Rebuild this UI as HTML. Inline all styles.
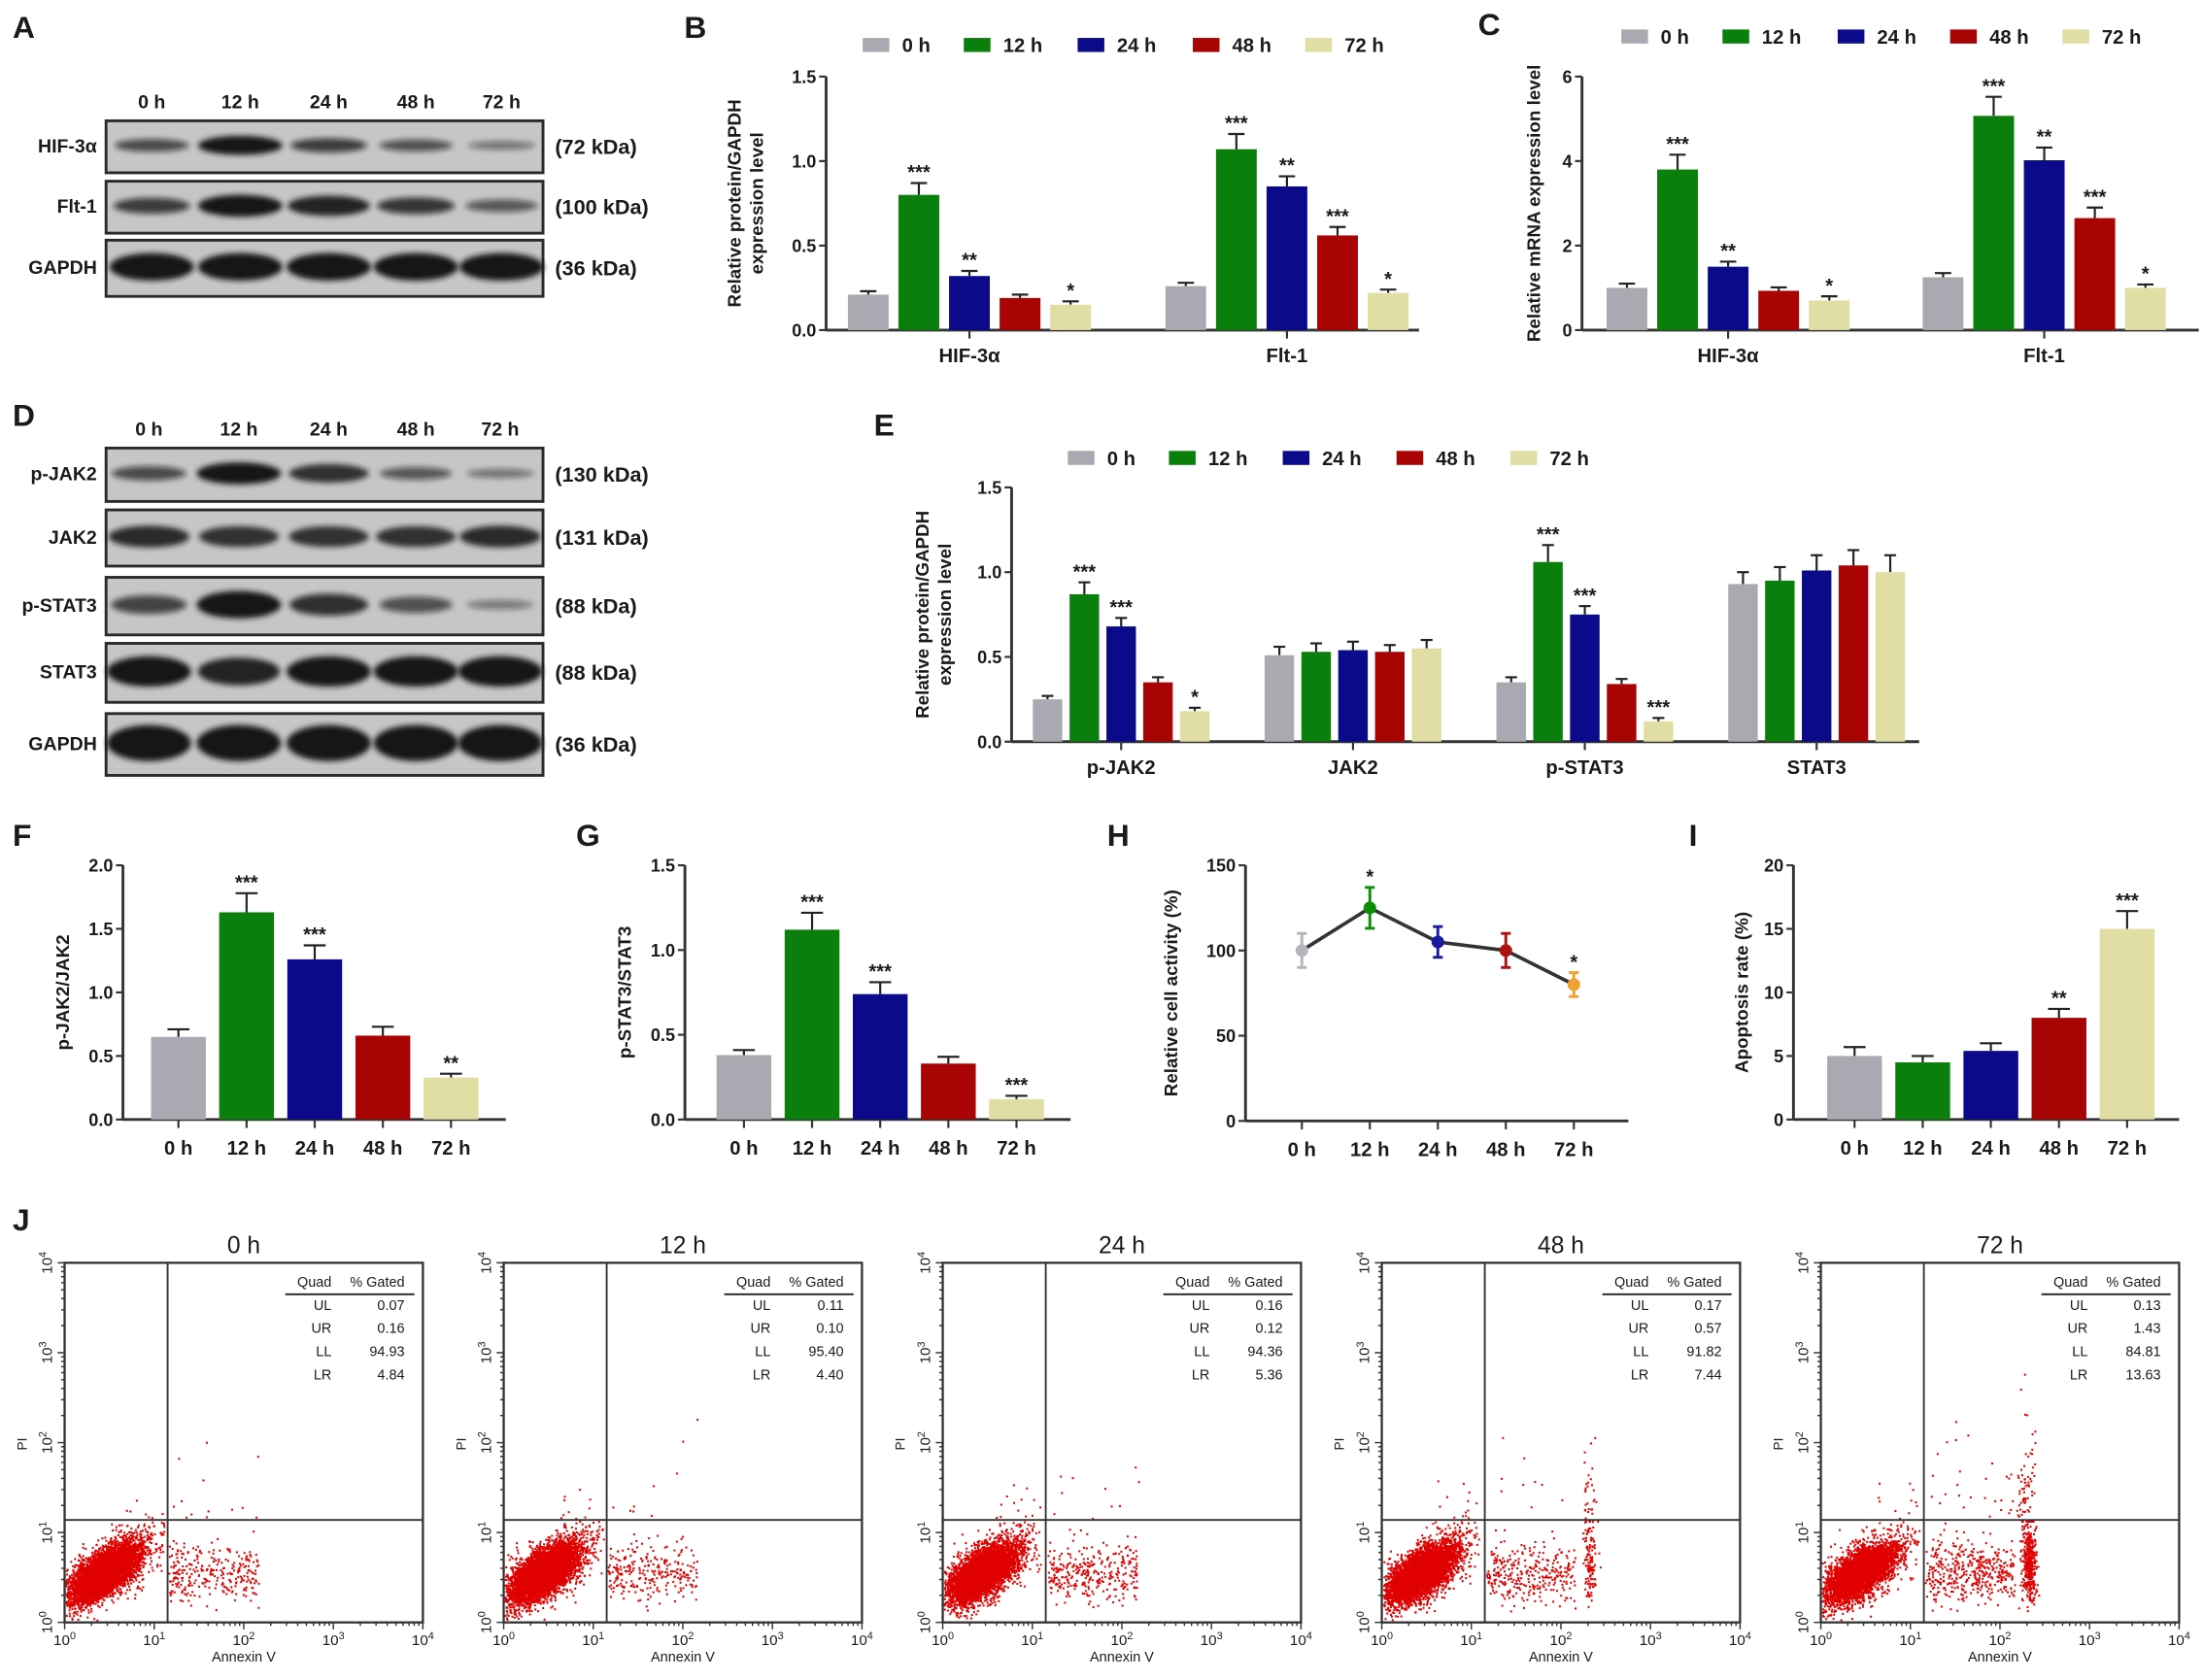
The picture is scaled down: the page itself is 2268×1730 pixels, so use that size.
<!DOCTYPE html>
<html><head><meta charset="utf-8">
<style>
html,body{margin:0;padding:0;background:#fff}
svg{display:block}
text{font-family:"Liberation Sans",Arial,sans-serif;font-weight:bold;fill:#1a1a1a}
</style></head>
<body>
<svg id="fig" xmlns="http://www.w3.org/2000/svg" width="2268" height="1730" viewBox="0 0 1568 1196" preserveAspectRatio="none">
<defs><filter id="blur" x="-20%" y="-80%" width="140%" height="260%"><feGaussianBlur stdDeviation="2"/></filter></defs>
<rect x="0" y="0" width="1568" height="1196" fill="#fff"/>
<text x="9" y="27" font-size="22">A</text>
<text x="487" y="27" font-size="22">B</text>
<text x="1052" y="25" font-size="22">C</text>
<text x="9" y="303" font-size="22">D</text>
<text x="622" y="310" font-size="22">E</text>
<text x="9" y="602" font-size="22">F</text>
<text x="410" y="602" font-size="22">G</text>
<text x="788" y="602" font-size="22">H</text>
<text x="1202" y="602" font-size="22">I</text>
<text x="9" y="876" font-size="22">J</text>
<g id="root"></g>
</svg>
<script>
// ---------- data ----------
const timeLabels = ['0 h','12 h','24 h','48 h','72 h'];
const bCategories = ['HIF-3α','Flt-1'];
const bMeans = [[0.21,0.80,0.32,0.19,0.15],[0.26,1.07,0.85,0.56,0.22]];
const bErrors = [[0.02,0.07,0.03,0.02,0.02],[0.02,0.09,0.06,0.05,0.02]];
const bStars = [['','***','**','','*'],['','***','**','***','*']];
const bTicks = [0,0.5,1.0,1.5];
const bTickLabels = ['0.0','0.5','1.0','1.5'];

const cCategories = ['HIF-3α','Flt-1'];
const cMeans = [[1.0,3.8,1.5,0.93,0.7],[1.25,5.07,4.02,2.65,1.0]];
const cErrors = [[0.1,0.35,0.12,0.08,0.1],[0.1,0.45,0.3,0.25,0.08]];
const cStars = [['','***','**','','*'],['','***','**','***','*']];
const cTicks = [0,2,4,6];
const cTickLabels = ['0','2','4','6'];

const eCategories = ['p-JAK2','JAK2','p-STAT3','STAT3'];
const eMeans = [[0.25,0.87,0.68,0.35,0.18],[0.51,0.53,0.54,0.53,0.55],[0.35,1.06,0.75,0.34,0.12],[0.93,0.95,1.01,1.04,1.00]];
const eErrors = [[0.02,0.07,0.05,0.03,0.02],[0.05,0.05,0.05,0.04,0.05],[0.03,0.10,0.05,0.03,0.02],[0.07,0.08,0.09,0.09,0.10]];
const eStars = [['','***','***','','*'],['','','','',''],['','***','***','','***'],['','','','','']];
const eTicks = [0,0.5,1.0,1.5];
const eTickLabels = ['0.0','0.5','1.0','1.5'];

const fMeans = [0.65,1.63,1.26,0.66,0.33];
const fErrors = [0.06,0.15,0.11,0.07,0.03];
const fStars = ['','***','***','','**'];
const fTicks = [0,0.5,1.0,1.5,2.0];
const fTickLabels = ['0.0','0.5','1.0','1.5','2.0'];

const gMeans = [0.38,1.12,0.74,0.33,0.12];
const gErrors = [0.03,0.10,0.07,0.04,0.02];
const gStars = ['','***','***','','***'];
const gTicks = [0,0.5,1.0,1.5];
const gTickLabels = ['0.0','0.5','1.0','1.5'];

const hMeans = [100,125,105,100,80];
const hErrors = [10,12,9,10,7];
const hStars = ['','*','','','*'];
const hTicks = [0,50,100,150];
const hTickLabels = ['0','50','100','150'];

const iMeans = [5.0,4.5,5.4,8.0,15.0];
const iErrors = [0.7,0.5,0.6,0.7,1.4];
const iStars = ['','','','**','***'];
const iTicks = [0,5,10,15,20];
const iTickLabels = ['0','5','10','15','20'];

const flowQuadNames = ['UL','UR','LL','LR'];
const flowUL = ['0.07','0.11','0.16','0.17','0.13'];
const flowUR = ['0.16','0.10','0.12','0.57','1.43'];
const flowLL = ['94.93','95.40','94.36','91.82','84.81'];
const flowLR = ['4.84','4.40','5.36','7.44','13.63'];

const colors = ['#a9a9b1','#0b7f0b','#0a0a8a','#a80404','#e0dea2'];
const hColors = ['#b5b5bd','#0b8f0b','#1a1aa0','#b01010','#f0a030'];

// ---------- helpers ----------
const NS = 'http://www.w3.org/2000/svg';
const root = document.getElementById('root');
function mk(tag, attrs, parent){
  const el = document.createElementNS(NS, tag);
  for (const k in attrs) el.setAttribute(k, attrs[k]);
  (parent||root).appendChild(el);
  return el;
}
function txt(s, x, y, size, anchor, parent){
  const t = mk('text', {x:x, y:y, 'font-size':size, 'text-anchor':anchor||'start'}, parent);
  t.textContent = s;
  return t;
}

function linearY(yBot, yTop, max){ return v => yBot - v/max*(yBot-yTop); }

function drawYAxis(g, x0, x1, yBot, yTop, ys, ticks, labels, xTicksAt){
  let el = mk('line', {x1:x0, y1:yTop, x2:x0, y2:yBot, stroke:'#333', 'stroke-width':2}, g);
  
  
  el = mk('line', {x1:x0, y1:yBot, x2:x1, y2:yBot, stroke:'#333', 'stroke-width':2}, g);
  
  
  ticks.forEach((t,i)=>{
    const y = ys(t);
    let tk = mk('line', {x1:x0-5, y1:y, x2:x0, y2:y, stroke:'#333', 'stroke-width':1.5}, g);
    
    
    let tl = txt(labels[i], x0-7, y+4.5, 12.5, 'end', g);
    
    
  });
  (xTicksAt||[]).forEach(x=>{
    let tk = mk('line', {x1:x, y1:yBot, x2:x, y2:yBot+6, stroke:'#333', 'stroke-width':1.5}, g);
    
    
  });
}
function yTitle(g, lines, x, cy, size){
  lines.forEach((s,i)=>{
    const t = txt(s, 0, 0, size||13, 'middle', g);
    t.setAttribute('transform', 'translate('+(x+i*16)+','+cy+') rotate(-90)');
    
    
  });
}
function legend(g, xs, y){
  xs.forEach((x,i)=>{
    const r = mk('rect', {x:x, y:y-5, width:19, height:10, fill:colors[i]}, g);
    
    
    const t = txt(timeLabels[i], x+28, y+5, 14, 'start', g);
    
    
  });
}
function bar(g, cx, bw, v, e, star, ys, color, name){
  const y = ys(v), y0 = ys(0), ye = ys(v+e);
  const el = mk('line', {x1:cx, y1:y, x2:cx, y2:ye, stroke:'#222', 'stroke-width':1.5}, g);
  
  
  const cap = mk('line', {x1:cx-bw*0.2, y1:ye, x2:cx+bw*0.2, y2:ye, stroke:'#222', 'stroke-width':1.5}, g);
  
  
  const r = mk('rect', {x:cx-bw/2, y:y, width:bw, height:y0-y, fill:color}, g);
  
  
  if (star){
    const s = txt(star, cx, ye-3, 14, 'middle', g);
    
    
  }
}
function groupedChart(cfg){
  const g = mk('g', {});
  
  
  const ys = linearY(cfg.yBot, cfg.yTop, cfg.max);
  const centers = cfg.categories.map((c,i)=>cfg.gStart + i*cfg.gStep);
  drawYAxis(g, cfg.x0, cfg.x1, cfg.yBot, cfg.yTop, ys, cfg.ticks, cfg.tickLabels, centers);
  cfg.categories.forEach((c,gi)=>{
    const cx = centers[gi];
    cfg.means[gi].forEach((v,k)=>{
      bar(g, cx + (k-2)*cfg.pitch, cfg.bw, v, cfg.errors[gi][k], cfg.stars[gi][k], ys, colors[k], 'bar-'+c.toLowerCase().replace(/[^a-z0-9]+/g,'')+'-'+timeLabels[k].replace(' ',''));
    });
    const t = txt(c, cx, cfg.yBot+23, 14, 'middle', g);
    
    
  });
  yTitle(g, cfg.yLines, cfg.yLabelX, (cfg.yTop+cfg.yBot)/2, 13);
  legend(g, cfg.legendXs, cfg.legendY);
}
function singleChart(cfg){
  const g = mk('g', {});
  
  
  const ys = linearY(cfg.yBot, cfg.yTop, cfg.max);
  const xs = i => cfg.c0 + i*cfg.step;
  const centers = timeLabels.map((t,i)=>xs(i));
  drawYAxis(g, cfg.x0, cfg.x1, cfg.yBot, cfg.yTop, ys, cfg.ticks, cfg.tickLabels, centers);
  cfg.means.forEach((v,i)=>{
    bar(g, xs(i), cfg.bw, v, cfg.errors[i], cfg.stars[i], ys, colors[i], 'bar-'+timeLabels[i].replace(' ',''));
  });
  timeLabels.forEach((t,i)=>{
    const l = txt(t, xs(i), cfg.yBot+25, 14, 'middle', g);
    
    
  });
  yTitle(g, [cfg.yLabel], cfg.yLabelX, (cfg.yTop+cfg.yBot)/2, 13);
}

// ---------- panels B, C, E ----------
groupedChart({name:'chart-b', x0:588, x1:1010, yTop:54.5, yBot:235, max:1.5, ticks:bTicks, tickLabels:bTickLabels,
  categories:bCategories, means:bMeans, errors:bErrors, stars:bStars, gStart:690, gStep:226, pitch:36, bw:29,
  yLines:['Relative protein/GAPDH','expression level'], yLabelX:527, legendXs:[614,686,767,849,929], legendY:32});
groupedChart({name:'chart-c', x0:1126, x1:1565, yTop:54.5, yBot:235, max:6, ticks:cTicks, tickLabels:cTickLabels,
  categories:cCategories, means:cMeans, errors:cErrors, stars:cStars, gStart:1230, gStep:225, pitch:36, bw:29,
  yLines:['Relative mRNA expression level'], yLabelX:1096, legendXs:[1154,1226,1308,1388,1468], legendY:26});
groupedChart({name:'chart-e', x0:720, x1:1366, yTop:347, yBot:528, max:1.5, ticks:eTicks, tickLabels:eTickLabels,
  categories:eCategories, means:eMeans, errors:eErrors, stars:eStars, gStart:798, gStep:165, pitch:26.2, bw:21,
  yLines:['Relative protein/GAPDH','expression level'], yLabelX:661, legendXs:[760,832,913,994,1075], legendY:326});

// ---------- panels F, G, I ----------
singleChart({name:'chart-f', x0:87.5, x1:360, yTop:616, yBot:797, max:2.0, ticks:fTicks, tickLabels:fTickLabels,
  means:fMeans, errors:fErrors, stars:fStars, c0:127, step:48.5, bw:39, yLabel:'p-JAK2/JAK2', yLabelX:49});
singleChart({name:'chart-g', x0:487.5, x1:762, yTop:616, yBot:797, max:1.5, ticks:gTicks, tickLabels:gTickLabels,
  means:gMeans, errors:gErrors, stars:gStars, c0:529.5, step:48.5, bw:39, yLabel:'p-STAT3/STAT3', yLabelX:449});
singleChart({name:'chart-i', x0:1276.5, x1:1551, yTop:616, yBot:797, max:20, ticks:iTicks, tickLabels:iTickLabels,
  means:iMeans, errors:iErrors, stars:iStars, c0:1320, step:48.5, bw:39, yLabel:'Apoptosis rate (%)', yLabelX:1244});

// ---------- panel H (line) ----------
(function(){
  const g = mk('g', {});
  
  
  const x0=886.5, x1=1159, yTop=616, yBot=798;
  const ys = linearY(yBot, yTop, 150);
  const xs = i => 926.6 + i*48.4;
  drawYAxis(g, x0, x1, yBot, yTop, ys, hTicks, hTickLabels, timeLabels.map((t,i)=>xs(i)));
  const pts = hMeans.map((v,i)=>xs(i)+','+ys(v)).join(' ');
  const pl = mk('polyline', {points:pts, fill:'none', stroke:'#333', 'stroke-width':2.5}, g);
  
  
  hMeans.forEach((v,i)=>{
    const cx = xs(i), lo = ys(v-hErrors[i]), hi = ys(v+hErrors[i]);
    const eb = mk('path', {d:'M'+cx+','+lo+'V'+hi+'M'+(cx-3.5)+','+lo+'h7M'+(cx-3.5)+','+hi+'h7', stroke:hColors[i], 'stroke-width':2, fill:'none'}, g);
    
    
    const p = mk('circle', {cx:cx, cy:ys(v), r:4.5, fill:hColors[i]}, g);
    
    
    if (hStars[i]){
      const s = txt(hStars[i], cx, hi-3, 14, 'middle', g);
      
      
    }
    const l = txt(timeLabels[i], cx, yBot+25, 14, 'middle', g);
    
    
  });
  yTitle(g, ['Relative cell activity (%)'], 838, 707, 13);
})();

// ---------- western blots ----------
function blotPanel(name, laneXs, headerY, rows){
  const g = mk('g', {});
  
  
  timeLabels.forEach((t,i)=>{
    const h = txt(t, laneXs[i], headerY+5, 13.5, 'middle', g);
    
    
  });
  rows.forEach(r=>{
    const bg = mk('rect', {x:75.5, y:r.y0, width:311, height:r.y1-r.y0, fill:'#c6c6c6', stroke:'#2a2a2a', 'stroke-width':2}, g);
    
    
    const cy = (r.y0+r.y1)/2 - 1;
    r.int.forEach((I,k)=>{
      const e = mk('ellipse', {cx:laneXs[k], cy:cy, rx:22+8*I, ry:1.8+r.th*I, fill:'#141414', 'fill-opacity':0.3+0.7*I, filter:'url(#blur)'}, g);
      
      
    });
    const l = txt(r.label, 69, cy+5, 13.5, 'end', g);
    
    
    const kd = txt(r.kda, 395, cy+6, 15, 'start', g);
    
    
  });
}
blotPanel('blot-a', [108,171,234,296,357], 72, [
  {label:'HIF-3α', kda:'(72 kDa)', y0:86, y1:123, th:5, int:[0.55,1.0,0.65,0.5,0.25]},
  {label:'Flt-1', kda:'(100 kDa)', y0:129, y1:166, th:6, int:[0.65,1.0,0.9,0.7,0.45]},
  {label:'GAPDH', kda:'(36 kDa)', y0:171, y1:211, th:8, int:[1,1,1,1,1]}
]);
blotPanel('blot-d', [106,170,234,296,356], 305, [
  {label:'p-JAK2', kda:'(130 kDa)', y0:319, y1:357, th:6, int:[0.55,1.0,0.8,0.45,0.25]},
  {label:'JAK2', kda:'(131 kDa)', y0:363, y1:403, th:7, int:[0.85,0.8,0.8,0.8,0.85]},
  {label:'p-STAT3', kda:'(88 kDa)', y0:411, y1:452, th:8, int:[0.6,1.0,0.75,0.5,0.2]},
  {label:'STAT3', kda:'(88 kDa)', y0:458, y1:500, th:9, int:[1,0.9,1,1,1]},
  {label:'GAPDH', kda:'(36 kDa)', y0:508, y1:552, th:11, int:[1,1,1,1,1]}
]);

// ---------- flow cytometry (J) ----------
let seed = 12345;
function rnd(){ seed |= 0; seed = seed + 0x6D2B79F5 | 0; let t = Math.imul(seed ^ seed >>> 15, 1 | seed); t = t + Math.imul(t ^ t >>> 7, 61 | t) ^ t; return ((t ^ t >>> 14) >>> 0) / 4294967296; }
function nrm(){ return Math.sqrt(-2*Math.log(rnd()+1e-9))*Math.cos(2*Math.PI*rnd()); }
function sup(t, base, exp){
  const a = document.createElementNS(NS,'tspan'); a.textContent = base; t.appendChild(a);
  const b = document.createElementNS(NS,'tspan'); b.setAttribute('dy','-4'); b.setAttribute('font-size','7.5'); b.textContent = exp; t.appendChild(b);
}
const flowLefts = [46, 358.5, 671, 983.5, 1296];
timeLabels.forEach((lab, p)=>{
  const L = flowLefts[p], T = 899, W = 255, H = 256, B = T+H;
  const g = mk('g', {});
  
  
  const fx = v => L + v*W/4, fy = v => B - v*H/4;
  const title = mk('text', {x:L+W/2, y:892, 'font-size':17, 'text-anchor':'middle', style:'font-weight:normal'}, g);
  title.textContent = lab;
  
  
  // events
  const N = 6000;
  const ll = parseFloat(flowLL[p]), lr = parseFloat(flowLR[p]), ur = parseFloat(flowUR[p]), ul = parseFloat(flowUL[p]);
  const dots = mk('g', {fill:'#e00000'}, g);
  
  
  function dot(x, y){
    if (x<0.02||x>3.98||y<0.02||y>3.98) return;
    const d = mk('rect', {x:fx(x)-0.7, y:fy(y)-0.7, width:1.4, height:1.4}, dots);
    
    
  }
  const streak = p>=3 ? (p===3?0.3:0.45) : 0;
  const nLL = Math.round(N*ll/100), nLR = Math.round(N*lr/100), nUR = Math.round(N*ur/100)+3, nUL = Math.round(N*ul/100)+3;
  for (let i=0;i<nLL;i++){
    const halo = rnd()<0.15;
    const u = nrm()*(halo?0.32:0.22), w = nrm()*(halo?0.15:0.1);
    let x = 0.45 + u*0.8 - w*0.6, y = 0.55 + u*0.6 + w*0.8;
    if (x>1.12) x = 1.12 - rnd()*0.25;
    if (y>1.12) y = 1.12 - rnd()*0.12;
    dot(x, y);
  }
  for (let i=0;i<nLR;i++){
    if (rnd()<streak){ dot(2.33+nrm()*0.04, Math.min(1.12, 0.65+nrm()*0.22)); }
    else { dot(1.17+rnd()*1.0, Math.min(1.12, 0.55+nrm()*0.17)); }
  }
  for (let i=0;i<nUR;i++){
    if (streak && rnd()<0.7){ dot(2.3+nrm()*0.05, 1.15+Math.abs(nrm())*(p===4?0.55:0.4)); }
    else { dot(1.2+rnd()*1.0, 1.15+Math.abs(nrm())*0.35); }
  }
  for (let i=0;i<nUL;i++){ dot(0.6+rnd()*0.5, 1.15+Math.abs(nrm())*0.2); }
  // frame & quadrant lines
  const fr = mk('rect', {x:L, y:T, width:W, height:H, fill:'none', stroke:'#333', 'stroke-width':1.6}, g);
  
  
  const qv = mk('line', {x1:fx(1.15), y1:T, x2:fx(1.15), y2:B, stroke:'#333', 'stroke-width':1.3}, g);
  
  
  const qh = mk('line', {x1:L, y1:fy(1.14), x2:L+W, y2:fy(1.14), stroke:'#333', 'stroke-width':1.3}, g);
  
  
  // log ticks
  let d = '';
  for (let dec=0; dec<4; dec++){
    for (let m=1; m<10; m++){
      const v = dec + Math.log10(m);
      const len = m===1 ? 5 : 2.5;
      d += 'M'+fx(v)+','+B+'v'+len+'M'+L+','+fy(v)+'h'+(-len);
    }
  }
  d += 'M'+fx(4)+','+B+'v5M'+L+','+fy(4)+'h-5';
  const tk = mk('path', {d:d, stroke:'#333', 'stroke-width':1, fill:'none'}, g);
  
  
  for (let dec=0; dec<=4; dec++){
    const xt = mk('text', {x:fx(dec), y:B+16, 'font-size':10.5, 'text-anchor':'middle', style:'font-weight:normal'}, g);
    sup(xt, '10', String(dec));
    
    
    const yt = mk('text', {x:0, y:0, 'font-size':10.5, 'text-anchor':'middle', style:'font-weight:normal', transform:'translate('+(L-9)+','+fy(dec)+') rotate(-90)'}, g);
    sup(yt, '10', String(dec));
    
    
  }
  const ax = mk('text', {x:L+W/2, y:B+28, 'font-size':10, 'text-anchor':'middle', style:'font-weight:normal'}, g);
  ax.textContent = 'Annexin V';
  
  
  const ay = mk('text', {x:0, y:0, 'font-size':9.5, 'text-anchor':'middle', style:'font-weight:normal', transform:'translate('+(L-27)+',1028) rotate(-90)'}, g);
  ay.textContent = 'PI';
  
  
  // gated table
  const tb = mk('g', {}, g);
  
  
  const qh1 = mk('text', {x:L+190, y:916, 'font-size':10, 'text-anchor':'end', style:'font-weight:normal'}, tb);
  qh1.textContent = 'Quad';
  
  
  const qh2 = mk('text', {x:L+242, y:916, 'font-size':10, 'text-anchor':'end', style:'font-weight:normal'}, tb);
  qh2.textContent = '% Gated';
  
  
  const hl = mk('line', {x1:L+157, y1:921.4, x2:L+249, y2:921.4, stroke:'#222', 'stroke-width':1.3}, tb);
  
  
  const vals = [flowUL[p], flowUR[p], flowLL[p], flowLR[p]];
  flowQuadNames.forEach((q,r)=>{
    const y = 932.5 + r*16.5;
    const a = mk('text', {x:L+190, y:y, 'font-size':10, 'text-anchor':'end', style:'font-weight:normal'}, tb);
    a.textContent = q;
    
    
    const b = mk('text', {x:L+242, y:y, 'font-size':10, 'text-anchor':'end', style:'font-weight:normal'}, tb);
    b.textContent = vals[r];
    
    
  });
});
</script>
</body></html>
